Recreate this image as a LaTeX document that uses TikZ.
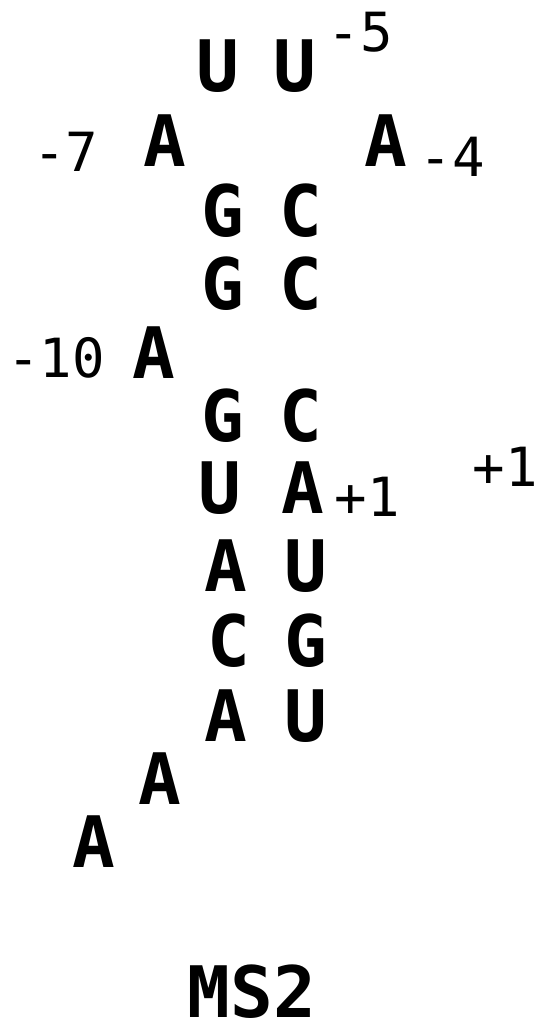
\documentclass[tikz,border=0pt]{standalone}
\usepackage{fontspec}
\newfontfamily\basefont{DejaVu Sans Mono}
\tikzset{
  base/.style={inner sep=0pt, outer sep=0pt, anchor=center, font=\basefont\bfseries\fontsize{71}{71}\selectfont},
  num/.style={inner sep=0pt, outer sep=0pt, anchor=center, font=\basefont\fontsize{54}{54}\selectfont}
}
\begin{document}
\begin{tikzpicture}[x=1pt,y=-1pt]
\useasboundingbox (0,0) rectangle (544,1030);
% loop
\node[base] (u1) at (218,66) {U};
\node[base] (u2) at (295,66) {U};
\node[num] (n5) at (360,32) {-5};
\node[base] (a7) at (165,141) {A};
\node[num] (n7) at (66,152) {-7};
\node[base] (a4) at (386,141) {A};
\node[num] (n4) at (452,157) {-4};
% stem
\node[base] (g1) at (223,211) {G};
\node[base] (c1) at (301,211) {C};
\node[base] (g2) at (223,284) {G};
\node[base] (c2) at (301,284) {C};
\node[base] (a10) at (154,353) {A};
\node[num] (n10) at (56,358) {-10};
\node[base] (g3) at (223,416) {G};
\node[base] (c3) at (301,416) {C};
\node[base] (u4) at (220,488) {U};
\node[base] (a1) at (303,488) {A};
\node[num] (p1a) at (367,497) {+1};
\node[num] (p1b) at (505,467) {+1};
\node[base] (a5) at (226,566) {A};
\node[base] (u5) at (306,566) {U};
\node[base] (c6) at (229,641) {C};
\node[base] (g6) at (306,641) {G};
\node[base] (a7b) at (226,716) {A};
\node[base] (u7) at (306,716) {U};
\node[base] (a8) at (160,779) {A};
\node[base] (a9) at (94,842) {A};
% title
\node[base] (title) at (252,992) {MS2};
\end{tikzpicture}
\end{document}
